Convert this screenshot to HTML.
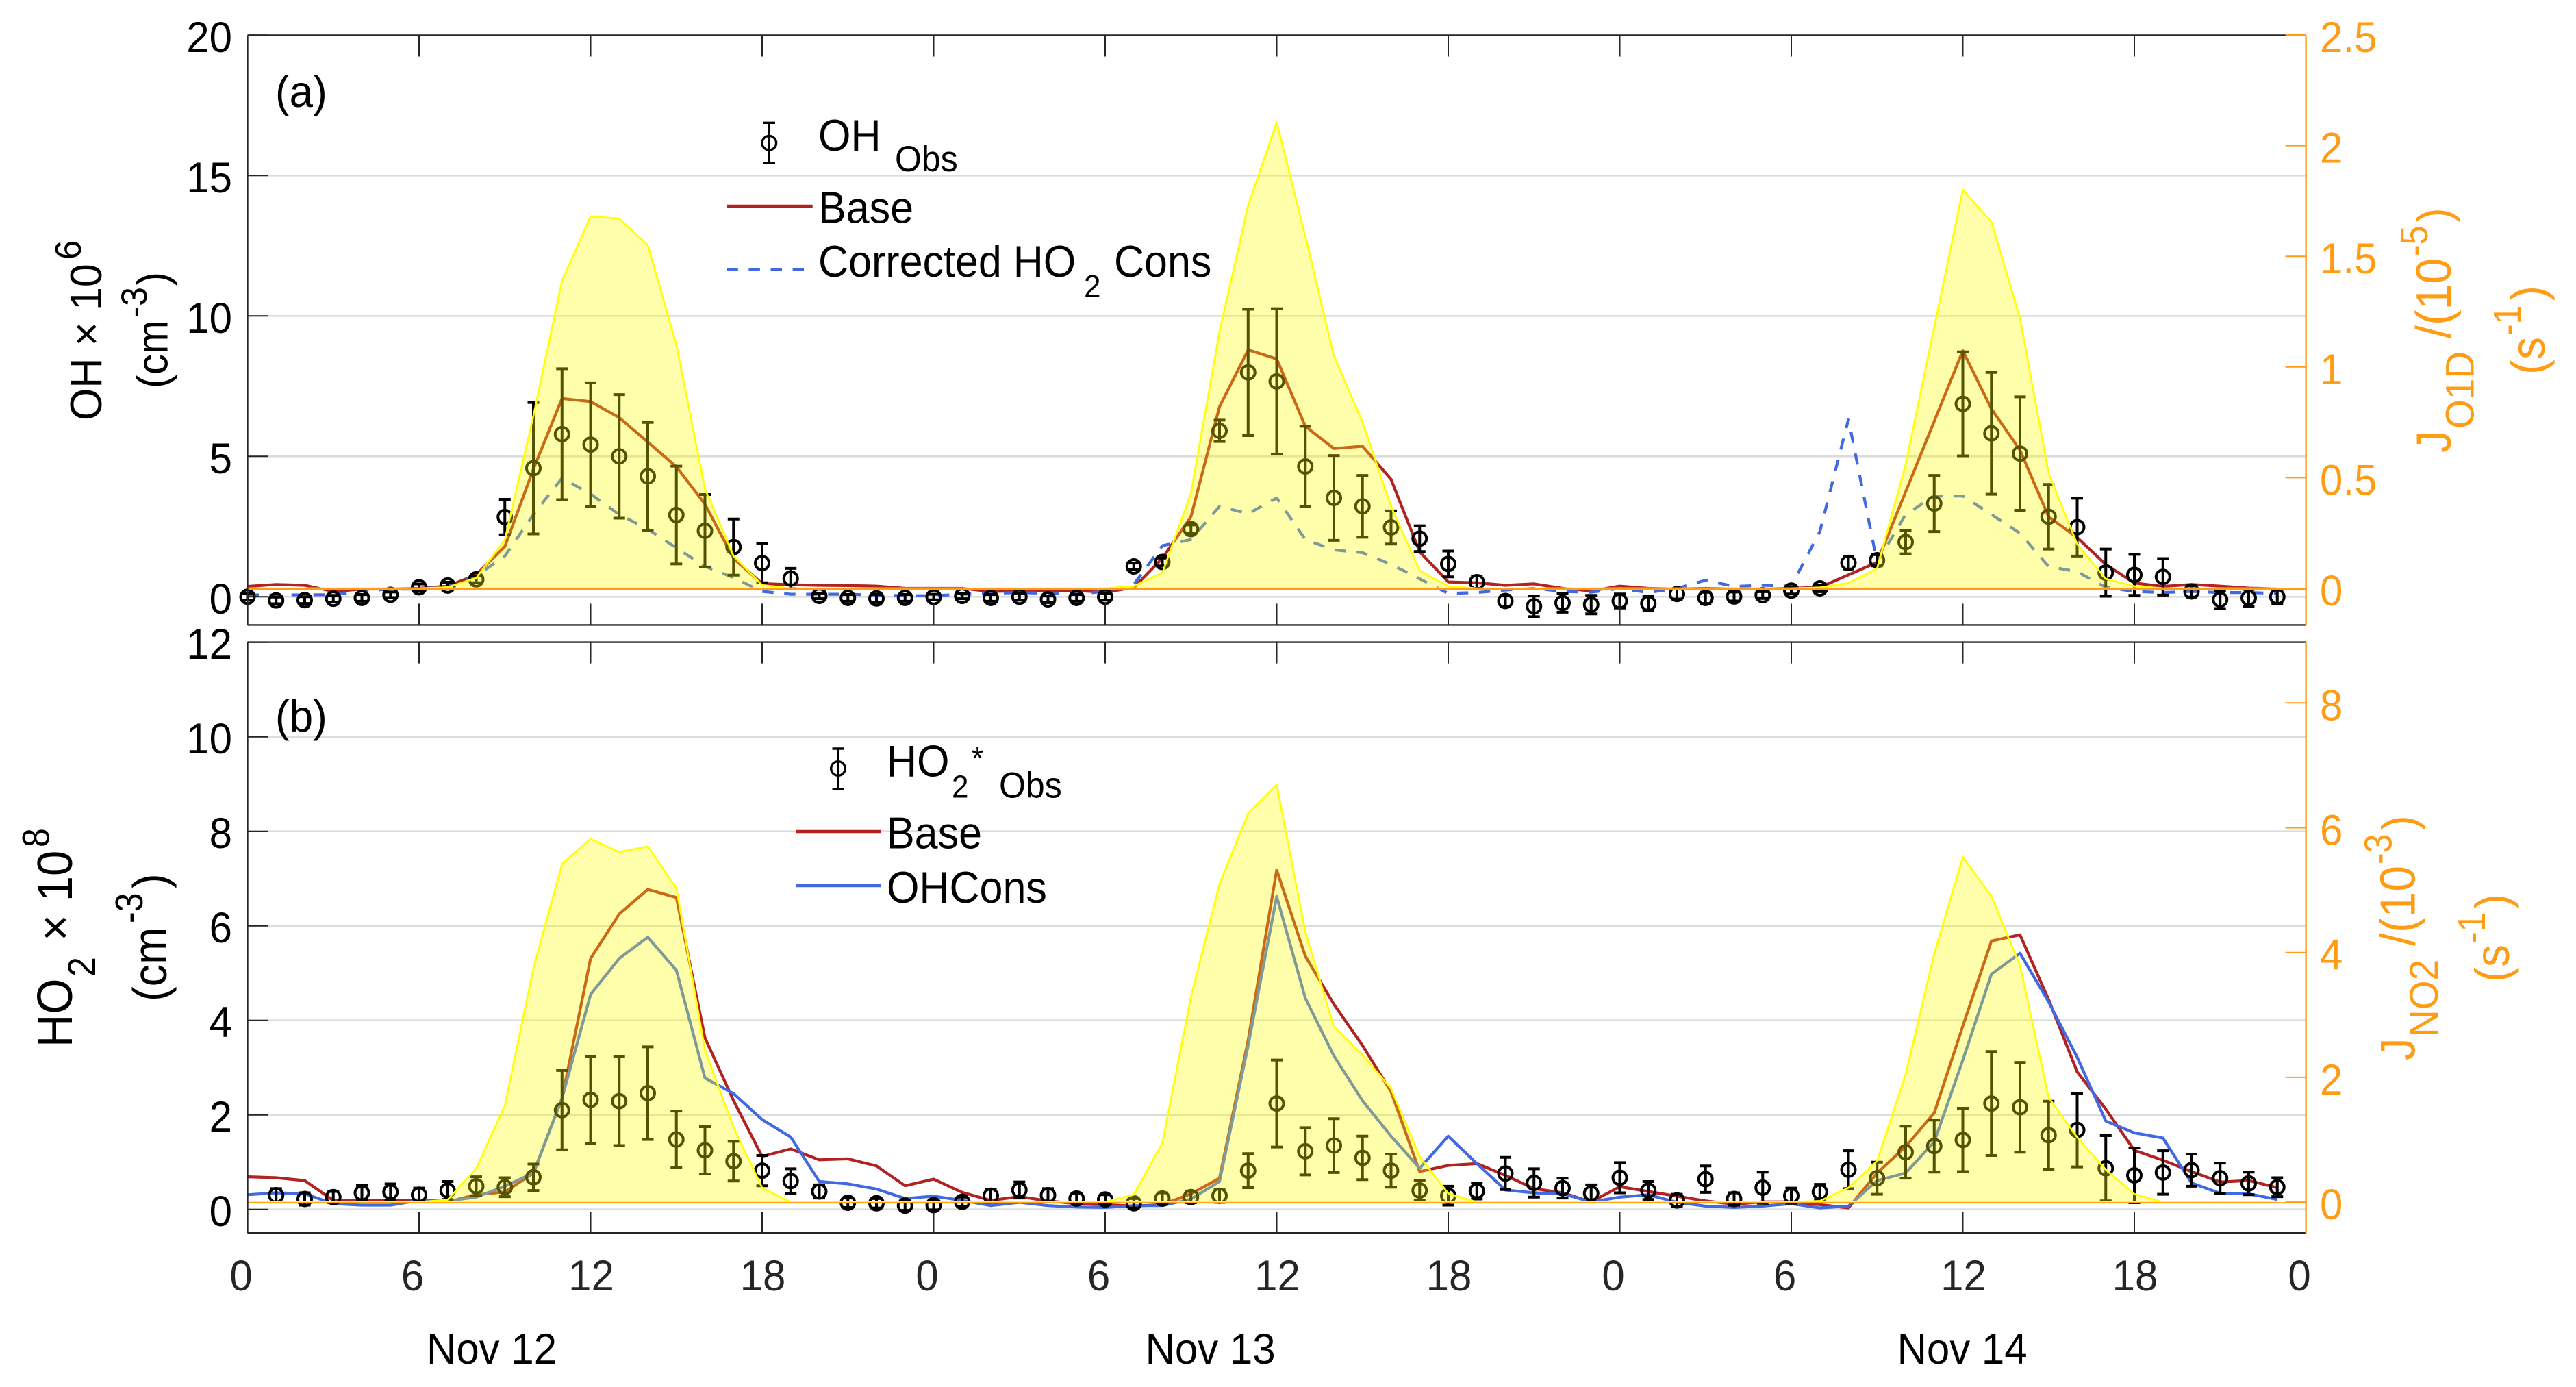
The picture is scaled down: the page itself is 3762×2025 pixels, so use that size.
<!DOCTYPE html>
<html lang="en">
<head>
<meta charset="utf-8">
<title>OH and HO2 observations and model</title>
<style>
html,body{margin:0;padding:0;background:#fff;}
svg{display:block;}
text{font-family:"Liberation Sans",Arial,sans-serif;}
.k{fill:#000;}
.o{fill:#ff9c14;}
</style>
</head>
<body>
<svg id="chart" xmlns="http://www.w3.org/2000/svg" width="3762" height="2025" viewBox="0 0 3762 2025">
<rect x="0" y="0" width="3762" height="2025" fill="#fff"/>
<g id="marks"></g>

<text class="k" font-size="62" transform="translate(402,156) scale(1,1.05)">(a)</text>
<text class="k" font-size="62" transform="translate(402,1068) scale(1,1.05)">(b)</text>

<g>
<g>
<line x1="1123.3" x2="1123.3" y1="179.3" y2="237.7" stroke="#000" stroke-width="3.4"/>
<line x1="1115" x2="1132" y1="179.3" y2="179.3" stroke="#000" stroke-width="3.4"/>
<line x1="1115" x2="1132" y1="237.7" y2="237.7" stroke="#000" stroke-width="3.4"/>
<circle cx="1123.3" cy="208.7" r="10.3" fill="none" stroke="#000" stroke-width="3.4"/>
<text class="k" font-size="61" transform="translate(1195,220) scale(1,1.06)">OH</text>
<text class="k" font-size="50" transform="translate(1307,250) scale(1,1.06)">Obs</text>
</g>
<g>
<line x1="1061.3" x2="1186.7" y1="301" y2="301" stroke="#b22222" stroke-width="4.5"/>
<text class="k" font-size="61" transform="translate(1195,325.7) scale(1,1.06)">Base</text>
</g>
<g>
<line x1="1061.3" x2="1174" y1="393.3" y2="393.3" stroke="#4169e1" stroke-width="4.5" stroke-dasharray="16.5 15.6"/>
<text class="k" font-size="61" transform="translate(1195,404) scale(1,1.06)">Corrected HO</text>
<text class="k" font-size="44" transform="translate(1583,434) scale(1,1.06)">2</text>
<text class="k" font-size="61" transform="translate(1627,404) scale(1,1.06)">Cons</text>
</g>
</g>

<g>
<g>
<line x1="1224" x2="1224" y1="1093" y2="1152" stroke="#000" stroke-width="3.4"/>
<line x1="1215.5" x2="1232.5" y1="1093" y2="1093" stroke="#000" stroke-width="3.4"/>
<line x1="1215.5" x2="1232.5" y1="1152" y2="1152" stroke="#000" stroke-width="3.4"/>
<circle cx="1224" cy="1122" r="10.3" fill="none" stroke="#000" stroke-width="3.4"/>
<text class="k" font-size="61" transform="translate(1295,1133.5) scale(1,1.06)">HO</text>
<text class="k" font-size="44" transform="translate(1390,1164.5) scale(1,1.06)">2</text>
<text class="k" font-size="44" transform="translate(1419,1123) scale(1,1.06)">*</text>
<text class="k" font-size="50" transform="translate(1459,1164.5) scale(1,1.06)">Obs</text>
</g>
<g>
<line x1="1162.5" x2="1287" y1="1214" y2="1214" stroke="#b22222" stroke-width="4.5"/>
<text class="k" font-size="61" transform="translate(1295,1238.5) scale(1,1.06)">Base</text>
</g>
<g>
<line x1="1162.5" x2="1287" y1="1293" y2="1293" stroke="#4169e1" stroke-width="4.5"/>
<text class="k" font-size="61" transform="translate(1295,1318) scale(1,1.06)">OHCons</text>
</g>
</g>

<g>
<text class="k" font-size="61" transform="translate(148,614) rotate(-90) scale(1,1.07)">OH × 10</text>
<text class="k" font-size="51" transform="translate(118,379) rotate(-90) scale(1,1.05)">6</text>
<text class="k" font-size="60" transform="translate(244.5,567) rotate(-90) scale(1,1.07)">(cm</text>
<text class="k" font-size="50" transform="translate(214,463.5) rotate(-90) scale(1,1.05)">-3</text>
<text class="k" font-size="60" transform="translate(244.5,417) rotate(-90) scale(1,1.07)">)</text>
</g>

<g>
<text class="k" font-size="67" transform="translate(105,1529) rotate(-90) scale(1,1.085)">HO</text>
<text class="k" font-size="52" transform="translate(139,1426) rotate(-90) scale(1,1.08)">2</text>
<text class="k" font-size="67" transform="translate(105,1374) rotate(-90) scale(1,1.085)">× 10</text>
<text class="k" font-size="50" transform="translate(71.7,1237) rotate(-90) scale(1,1.12)">8</text>
<text class="k" font-size="65" transform="translate(243,1462) rotate(-90) scale(1,1.07)">(cm</text>
<text class="k" font-size="50" transform="translate(208,1348) rotate(-90) scale(1,1.14)">-3</text>
<text class="k" font-size="65" transform="translate(243,1297) rotate(-90) scale(1,1.07)">)</text>
</g>

<g>
<text class="o" font-size="65" transform="translate(3579,661) rotate(-90) scale(1,1.1)">J</text>
<text class="o" font-size="55" transform="translate(3612.3,626) rotate(-90) scale(1,1.06)">O1D</text>
<text class="o" font-size="68" transform="translate(3579,494) rotate(-90) scale(1,1.07)">/(10</text>
<text class="o" font-size="50" transform="translate(3545,374) rotate(-90) scale(1,1.14)">-5</text>
<text class="o" font-size="65" transform="translate(3578,325) rotate(-90) scale(1,1.05)">)</text>
<text class="o" font-size="66" transform="translate(3716,547) rotate(-90) scale(1,1.07)">(s</text>
<text class="o" font-size="50" transform="translate(3681,490) rotate(-90) scale(1,1.14)">-1</text>
<text class="o" font-size="66" transform="translate(3716,439) rotate(-90) scale(1,1.07)">)</text>
</g>

<g>
<text class="o" font-size="65" transform="translate(3526.7,1548) rotate(-90) scale(1,1.1)">J</text>
<text class="o" font-size="55" transform="translate(3560,1514) rotate(-90) scale(1,1.06)">NO2</text>
<text class="o" font-size="68" transform="translate(3526.7,1381) rotate(-90) scale(1,1.07)">/(10</text>
<text class="o" font-size="50" transform="translate(3492.7,1262) rotate(-90) scale(1,1.14)">-3</text>
<text class="o" font-size="65" transform="translate(3527,1212) rotate(-90) scale(1,1.05)">)</text>
<text class="o" font-size="66" transform="translate(3664,1434) rotate(-90) scale(1,1.07)">(s</text>
<text class="o" font-size="50" transform="translate(3629,1377) rotate(-90) scale(1,1.14)">-1</text>
<text class="o" font-size="66" transform="translate(3664,1327) rotate(-90) scale(1,1.07)">)</text>
</g>

<text class="k" font-size="60" transform="translate(623,1991) scale(1,1.05)">Nov 12</text>
<text class="k" font-size="60" transform="translate(1672.6,1991) scale(1,1.05)">Nov 13</text>
<text class="k" font-size="60" transform="translate(2770.6,1991) scale(1,1.05)">Nov 14</text>
</svg>

<script>
const hours = [0,1,2,3,4,5,6,7,8,9,10,11,12,13,14,15,16,17,18,19,20,21,22,23,24,25,26,27,28,29,30,31,32,33,34,35,36,37,38,39,40,41,42,43,44,45,46,47,48,49,50,51,52,53,54,55,56,57,58,59,60,61,62,63,64,65,66,67,68,69,70,71];

const ohObs = [0,-.13,-.12,-.07,-.04,.07,.34,.40,.62,2.84,4.58,5.79,5.42,5.0,4.29,2.91,2.35,1.77,1.2,.65,.03,-.04,-.06,-.04,-.01,.03,-.04,0,-.09,-.04,0,1.08,1.24,2.41,5.91,7.99,7.67,4.64,3.52,3.22,2.47,2.07,1.17,.52,-.15,-.34,-.22,-.28,-.15,-.24,.10,-.04,.01,.06,.22,.30,1.21,1.30,1.95,3.32,6.87,5.82,5.10,2.85,2.48,.86,.78,.71,.19,-.10,-.04,0];
const ohErr = [.12,.12,.12,.12,.12,.1,.12,.12,.12,.63,2.34,2.33,2.2,2.2,1.92,1.74,1.29,1,.7,.36,.1,.12,.14,.12,.1,.1,.12,.12,.12,.12,.12,.12,.14,.15,.38,2.25,2.59,1.43,1.51,1.1,.59,.46,.46,.22,.2,.37,.33,.33,.25,.25,.18,.2,.16,.12,.12,.12,.22,.2,.42,1,1.85,2.17,2.02,1.15,1.03,.84,.73,.65,.2,.32,.3,.24];
const ohBase = [.37,.44,.41,.19,.27,.28,.3,.38,.78,1.79,4.55,7.06,6.95,6.38,5.51,4.63,3.3,1.36,.47,.43,.41,.4,.38,.3,.3,.3,.19,.21,.21,.22,.16,.33,1.37,2.85,6.77,8.79,8.47,6.07,5.28,5.36,4.18,1.6,.53,.5,.41,.46,.3,.21,.38,.3,.28,.3,.28,.28,.3,.34,.78,1.23,3.74,6.25,8.76,6.69,5.22,2.85,2.11,1.15,.49,.37,.44,.38,.31,.28];
const ohCorrected = [.07,.06,.07,.07,.21,.27,.27,.38,.74,1.45,2.93,4.23,3.66,2.93,2.41,1.74,1.08,.68,.19,.09,.09,.09,.06,.04,.04,.09,.12,.15,.12,.1,.19,.44,1.82,2.04,3.22,2.96,3.52,2.04,1.67,1.57,1.15,.64,.12,.15,.24,.3,.19,.16,.3,.15,.3,.59,.37,.41,.38,2.33,6.32,1.23,2.93,3.59,3.59,2.93,2.26,1.08,.89,.34,.19,.15,.19,.15,.15,.12];
const jO1D = [0,0,0,0,0,0,0,.005,.047,.22,.78,1.39,1.68,1.67,1.55,1.10,.45,.146,.015,0,0,0,0,0,0,0,0,0,0,0,0,.01,.07,.43,1.16,1.73,2.105,1.59,1.05,.75,.37,.08,.01,0,0,0,0,0,0,0,0,0,0,0,0,.004,.024,.09,.56,1.18,1.80,1.655,1.22,.52,.2,.043,.01,0,0,0,0,0];

const ho2Obs = [null,.30,.22,.26,.35,.37,.31,.40,.49,.47,.68,2.10,2.32,2.29,2.46,1.48,1.25,1.02,.82,.60,.38,.14,.13,.08,.09,.16,.29,.41,.30,.23,.21,.13,.23,.26,.29,.82,2.24,1.23,1.35,1.09,.82,.40,.29,.39,.76,.56,.45,.34,.67,.40,.19,.64,.22,.46,.29,.37,.84,.66,1.21,1.34,1.47,2.24,2.16,1.57,1.68,.87,.72,.78,.83,.66,.55,.47];
const ho2Err = [null,.14,.13,.12,.16,.17,.14,.19,.2,.2,.28,.84,.92,.94,.98,.6,.5,.42,.32,.26,.14,.1,.1,.1,.1,.1,.14,.17,.14,.1,.1,.1,.12,.12,.14,.36,.92,.5,.57,.46,.35,.21,.2,.17,.34,.3,.21,.18,.32,.19,.13,.28,.13,.33,.16,.16,.4,.34,.55,.55,.67,1.1,.95,.72,.78,.69,.58,.46,.34,.32,.24,.2];
const ho2Base = [.69,.67,.61,.19,.2,.18,.2,.16,.31,.37,.77,2.35,5.31,6.25,6.77,6.6,3.63,2.3,1.12,1.28,1.05,1.07,.92,.5,.64,.36,.19,.27,.18,.12,.1,.07,.1,.33,.66,3.58,7.18,5.36,4.34,3.47,2.49,.8,.93,.97,.72,.44,.35,.16,.48,.38,.28,.18,.11,.16,.16,.1,.03,.77,1.33,2.04,3.88,5.68,5.81,4.44,2.91,2.12,1.25,1.04,.8,.58,.61,.46];
const ho2Cons = [.31,.35,.33,.12,.09,.09,.19,.18,.26,.49,.77,2.35,4.55,5.31,5.76,5.06,2.78,2.45,1.9,1.53,.59,.54,.43,.23,.28,.19,.08,.15,.08,.05,.04,.08,.08,.22,.59,3.47,6.62,4.47,3.25,2.3,1.55,.87,1.55,.97,.41,.35,.33,.16,.26,.31,.15,.07,.04,.07,.12,.03,.07,.61,.77,1.43,3.16,4.98,5.42,4.39,3.22,1.87,1.62,1.51,.56,.34,.33,.21];
const jNO2 = [0,0,0,0,0,0,0,.04,.54,1.55,3.75,5.42,5.82,5.61,5.7,5.03,2.44,1.2,.23,0,0,0,0,0,0,0,0,0,0,0,0,.12,.95,3.29,5.1,6.23,6.69,4.33,2.81,2.36,1.82,.73,.14,0,0,0,0,0,0,0,0,0,0,0,0,.02,.23,.66,2.05,3.98,5.53,4.9,3.79,1.68,1.04,.52,.13,0,0,0,0,0];

const xTickHours = [0,6,12,18,24,30,36,42,48,54,60,66,72];
const xTickLabels = ['0','6','12','18','0','6','12','18','0','6','12','18','0'];
const leftTicksA = [0,5,10,15,20];
const rightTicksA = [0,0.5,1,1.5,2,2.5];
const leftTicksB = [0,2,4,6,8,10,12];
const rightTicksB = [0,2,4,6,8];

const SVGNS = 'http://www.w3.org/2000/svg';
const root = document.getElementById('marks');
const AXIS = '#262626', ORANGE = '#ff9c14', GRID = '#dcdcdc', RED = '#b22222', BLUE = '#4169e1';
const L = 361.5, R = 3367.6;
const x = h => L + h * 41.75;
const yA = v => 871.3 - v * 41;
const yAJ = v => 859 - v * 323.2;
const yB = v => 1765.7 - v * 69;
const yBJ = v => 1755.1 - v * 91.1;

function make(tag, attrs, parent) {
  const el = document.createElementNS(SVGNS, tag);
  for (const k in attrs) el.setAttribute(k, attrs[k]);
  (parent || root).appendChild(el);
  return el;
}
function lineEl(x1, y1, x2, y2, color, width, name, parent) {
  const el = make('line', {x1: x1, y1: y1, x2: x2, y2: y2, stroke: color, 'stroke-width': width}, parent);
  
  
  return el;
}
function textEl(px, py, str, size, color, anchor, name, parent) {
  const el = make('text', {transform: 'translate(' + px + ',' + py + ') scale(1,1.05)', 'font-size': size, fill: color, 'text-anchor': anchor}, parent);
  el.textContent = str;
  
  
  return el;
}
function series(values, yFn, color, dash, name, parent) {
  const d = values.map((v, i) => (i ? 'L' : 'M') + x(hours[i]).toFixed(1) + ' ' + yFn(v).toFixed(1)).join('');
  const el = make('path', {d: d, fill: 'none', stroke: color, 'stroke-width': 4.2, 'stroke-linejoin': 'round'}, parent);
  if (dash) el.setAttribute('stroke-dasharray', dash);
  
  
}
function observations(values, errors, yFn, name, parent) {
  values.forEach((v, i) => {
    if (v === null) return;
    const cx = x(hours[i]);
    const g = make('g', {stroke: '#000', 'stroke-width': 4, fill: 'none'}, parent);
    
    
    const top = yFn(v + errors[i]);
    const bot = yFn(v - errors[i]);
    make('line', {x1: cx, x2: cx, y1: top, y2: bot}, g);
    make('line', {x1: cx - 8.5, x2: cx + 8.5, y1: top, y2: top}, g);
    make('line', {x1: cx - 8.5, x2: cx + 8.5, y1: bot, y2: bot}, g);
    make('circle', {cx: cx, cy: yFn(v), r: 10}, g);
  });
}
function areaFill(values, yFn, name, parent) {
  let d = 'M' + x(hours[0]).toFixed(1) + ' ' + yFn(0).toFixed(1);
  values.forEach((v, i) => { d += 'L' + x(hours[i]).toFixed(1) + ' ' + yFn(v).toFixed(1); });
  d += 'L' + x(hours[hours.length - 1]).toFixed(1) + ' ' + yFn(0).toFixed(1) + 'Z';
  const el = make('path', {d: d, fill: '#ffff00', 'fill-opacity': 0.33, stroke: '#ffff00', 'stroke-width': 2.7, 'stroke-linejoin': 'round'}, parent);
  
  
}

function panel(cfg) {
  const g = make('g', {});
  
  
  // grid
  cfg.leftTicks.forEach(t => {
    if (t < cfg.leftMax) lineEl(L, cfg.yL(t), R, cfg.yL(t), GRID, 2.6, 'gridline', g);
  });
  // data beneath the translucent area
  series(cfg.base, cfg.yL, RED, null, 'base-line', g);
  series(cfg.alt, cfg.yL, BLUE, cfg.altDash, cfg.altName, g);
  observations(cfg.obs, cfg.err, cfg.yL, 'observation', g);
  areaFill(cfg.j, cfg.yR, 'photolysis-area', g);
  lineEl(L, cfg.yR(0) + 1, R, cfg.yR(0) + 1, ORANGE, 2, 'photolysis-zero-line', g);
  // frame
  lineEl(L, cfg.top, R, cfg.top, AXIS, 2.4, 'top-axis', g);
  lineEl(L, cfg.bottom, R, cfg.bottom, AXIS, 2.4, 'bottom-axis', g);
  lineEl(L, cfg.top, L, cfg.bottom, AXIS, 2.4, 'left-axis', g);
  lineEl(R, cfg.top, R, cfg.bottom, ORANGE, 2.4, 'right-axis', g);
  // x ticks
  xTickHours.forEach((h, i) => {
    if (i > 0 && i < xTickHours.length - 1) {
      lineEl(x(h), cfg.top, x(h), cfg.top + 31, AXIS, 2, 'x-tick-top', g);
      lineEl(x(h), cfg.bottom, x(h), cfg.bottom - 31, AXIS, 2, 'x-tick-bottom', g);
    }
    if (cfg.showX) {
      const lab = xTickLabels[i];
      const shift = lab.length === 1 ? -9.5 : 1;
      textEl(x(h) + shift, 1884, lab, 60, '#262626', 'middle', 'x-tick-label', g);
    }
  });
  // left ticks
  cfg.leftTicks.forEach(t => {
    lineEl(L, cfg.yL(t), L + 30, cfg.yL(t), AXIS, 2, 'y-tick', g);
    textEl(339, cfg.yL(t) + 24.5, String(t), 60, '#000', 'end', 'y-tick-label', g);
  });
  // right ticks
  cfg.rightTicks.forEach(t => {
    lineEl(R - 30, cfg.yR(t), R, cfg.yR(t), ORANGE, 2, 'right-tick', g);
    textEl(3388, cfg.yR(t) + 25, String(t), 60, ORANGE, 'start', 'right-tick-label', g);
  });
}

panel({name: 'panel-a-oh', top: 51.5, bottom: 912.4, yL: yA, yR: yAJ, leftTicks: leftTicksA, rightTicks: rightTicksA, leftMax: 20,
  base: ohBase, alt: ohCorrected, altDash: '16.5 15.6', altName: 'corrected-ho2-cons-line', obs: ohObs, err: ohErr, j: jO1D, showX: false});
panel({name: 'panel-b-ho2', top: 937.6, bottom: 1800.2, yL: yB, yR: yBJ, leftTicks: leftTicksB, rightTicks: rightTicksB, leftMax: 12,
  base: ho2Base, alt: ho2Cons, altDash: null, altName: 'ohcons-line', obs: ho2Obs, err: ho2Err, j: jNO2, showX: true});
</script>
</body>
</html>
